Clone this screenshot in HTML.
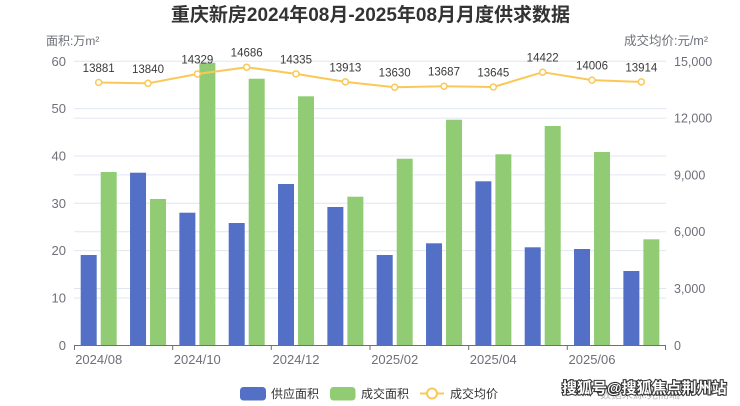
<!DOCTYPE html>
<html><head><meta charset="utf-8"><style>
html,body{margin:0;padding:0;background:#fff;}
svg{display:block;font-family:"Liberation Sans","Noto Sans CJK SC",sans-serif;}
</style></head><body>
<svg width="740" height="406" viewBox="0 0 740 406" xmlns="http://www.w3.org/2000/svg">
<rect width="740" height="406" fill="#fff"/>
<text x="370.5" y="21" text-anchor="middle" font-size="19" font-weight="bold" fill="#333">重庆新房2024年08月-2025年08月月度供求数据</text>
<text x="46" y="45" font-size="12" fill="#6e7079">面积:万m²</text>
<text x="708" y="45" font-size="12.5" text-anchor="end" fill="#6e7079">成交均价:元/m²</text>
<g stroke="#e0e6f1" stroke-width="1">
<line x1="74" x2="666" y1="61.3" y2="61.3"/>
<line x1="74" x2="666" y1="108.6" y2="108.6"/>
<line x1="74" x2="666" y1="156" y2="156"/>
<line x1="74" x2="666" y1="203.3" y2="203.3"/>
<line x1="74" x2="666" y1="250.6" y2="250.6"/>
<line x1="74" x2="666" y1="298" y2="298"/>
<line x1="74" x2="666" y1="118.1" y2="118.1"/>
<line x1="74" x2="666" y1="174.9" y2="174.9"/>
<line x1="74" x2="666" y1="231.7" y2="231.7"/>
<line x1="74" x2="666" y1="288.5" y2="288.5"/>
</g>
<g font-size="13" fill="#6e7079" text-anchor="end">
<text x="66" y="66">60</text>
<text x="66" y="113">50</text>
<text x="66" y="160.5">40</text>
<text x="66" y="208">30</text>
<text x="66" y="255">20</text>
<text x="66" y="302.5">10</text>
<text x="66" y="350">0</text>
</g>
<g font-size="12.5" fill="#6e7079">
<text x="674" y="66">15,000</text>
<text x="674" y="122.6">12,000</text>
<text x="674" y="179.4">9,000</text>
<text x="674" y="236.2">6,000</text>
<text x="674" y="293">3,000</text>
<text x="674" y="350">0</text>
</g>
<g fill="#5470c6">
<rect x="80.7" y="255" width="16" height="90.3"/>
<rect x="130.03" y="172.7" width="16" height="172.6"/>
<rect x="179.37" y="212.7" width="16" height="132.6"/>
<rect x="228.7" y="223" width="16" height="122.3"/>
<rect x="278.03" y="184" width="16" height="161.3"/>
<rect x="327.37" y="207" width="16" height="138.3"/>
<rect x="376.7" y="255" width="16" height="90.3"/>
<rect x="426.03" y="243.3" width="16" height="102"/>
<rect x="475.37" y="181.3" width="16" height="164"/>
<rect x="524.7" y="247.3" width="16" height="98"/>
<rect x="574.03" y="249" width="16" height="96.3"/>
<rect x="623.37" y="271" width="16" height="74.3"/>
</g>
<g fill="#91cc75">
<rect x="100.7" y="172" width="16" height="173.3"/>
<rect x="150.03" y="199" width="16" height="146.3"/>
<rect x="199.37" y="62.7" width="16" height="282.6"/>
<rect x="248.7" y="78.7" width="16" height="266.6"/>
<rect x="298.03" y="96.3" width="16" height="249"/>
<rect x="347.37" y="196.7" width="16" height="148.6"/>
<rect x="396.7" y="158.7" width="16" height="186.6"/>
<rect x="446.03" y="119.7" width="16" height="225.6"/>
<rect x="495.37" y="154.3" width="16" height="191"/>
<rect x="544.7" y="126" width="16" height="219.3"/>
<rect x="594.03" y="152" width="16" height="193.3"/>
<rect x="643.37" y="239.3" width="16" height="106"/>
</g>
<g stroke="#6e7079" stroke-width="1" fill="none">
<line x1="74" x2="666" y1="345.5" y2="345.5"/>
<line x1="74.5" x2="74.5" y1="345" y2="350"/>
<line x1="172.7" x2="172.7" y1="345" y2="350"/>
<line x1="271.3" x2="271.3" y1="345" y2="350"/>
<line x1="370" x2="370" y1="345" y2="350"/>
<line x1="468.7" x2="468.7" y1="345" y2="350"/>
<line x1="567.3" x2="567.3" y1="345" y2="350"/>
<line x1="665.5" x2="665.5" y1="345" y2="350"/>
</g>
<g font-size="13" fill="#6e7079" text-anchor="middle">
<text x="98.7" y="364">2024/08</text>
<text x="197.3" y="364">2024/10</text>
<text x="296" y="364">2024/12</text>
<text x="394.7" y="364">2025/02</text>
<text x="493.3" y="364">2025/04</text>
<text x="592" y="364">2025/06</text>
</g>
<polyline fill="none" stroke="#fac858" stroke-width="2" stroke-linejoin="round" points="98.67,82.5 148,83.3 197.33,74 246.67,67.2 296,73.9 345.33,81.9 394.67,87.2 444,86.2 493.33,87 542.67,72.2 592,80.1 641.33,81.9"/>
<g fill="#fff" stroke="#fac858" stroke-width="1.5">
<circle cx="98.67" cy="82.5" r="3"/>
<circle cx="148" cy="83.3" r="3"/>
<circle cx="197.33" cy="74" r="3"/>
<circle cx="246.67" cy="67.2" r="3"/>
<circle cx="296" cy="73.9" r="3"/>
<circle cx="345.33" cy="81.9" r="3"/>
<circle cx="394.67" cy="87.2" r="3"/>
<circle cx="444" cy="86.2" r="3"/>
<circle cx="493.33" cy="87" r="3"/>
<circle cx="542.67" cy="72.2" r="3"/>
<circle cx="592" cy="80.1" r="3"/>
<circle cx="641.33" cy="81.9" r="3"/>
</g>
<g font-size="11.5" fill="#3a3a3a" text-anchor="middle">
<text x="98.67" y="72">13881</text>
<text x="148" y="72.8">13840</text>
<text x="197.33" y="63.5">14329</text>
<text x="246.67" y="56.7">14686</text>
<text x="296" y="63.4">14335</text>
<text x="345.33" y="71.4">13913</text>
<text x="394.67" y="76.7">13630</text>
<text x="444" y="75.7">13687</text>
<text x="493.33" y="76.5">13645</text>
<text x="542.67" y="61.7">14422</text>
<text x="592" y="69.6">14006</text>
<text x="641.33" y="71.4">13914</text>
</g>
<rect x="240" y="387" width="26" height="13.5" rx="3.5" fill="#5470c6"/>
<text x="271" y="398" font-size="12" fill="#333">供应面积</text>
<rect x="330" y="387" width="25.5" height="13.5" rx="3.5" fill="#91cc75"/>
<text x="361" y="398" font-size="12" fill="#333">成交面积</text>
<line x1="420" x2="444" y1="393.5" y2="393.5" stroke="#fac858" stroke-width="2"/>
<circle cx="432" cy="393.5" r="5" fill="#fff" stroke="#fac858" stroke-width="2"/>
<text x="450" y="398" font-size="12" fill="#333">成交均价</text>
<text x="600" y="398" font-size="11" fill="#bbb">数据来源:克而瑞</text>
<text x="562" y="393" font-size="15" font-weight="bold" fill="#fff" stroke="#333" stroke-width="2.2" paint-order="stroke" style="paint-order:stroke">搜狐号@搜狐焦点荆州站</text>
</svg>
</body></html>
